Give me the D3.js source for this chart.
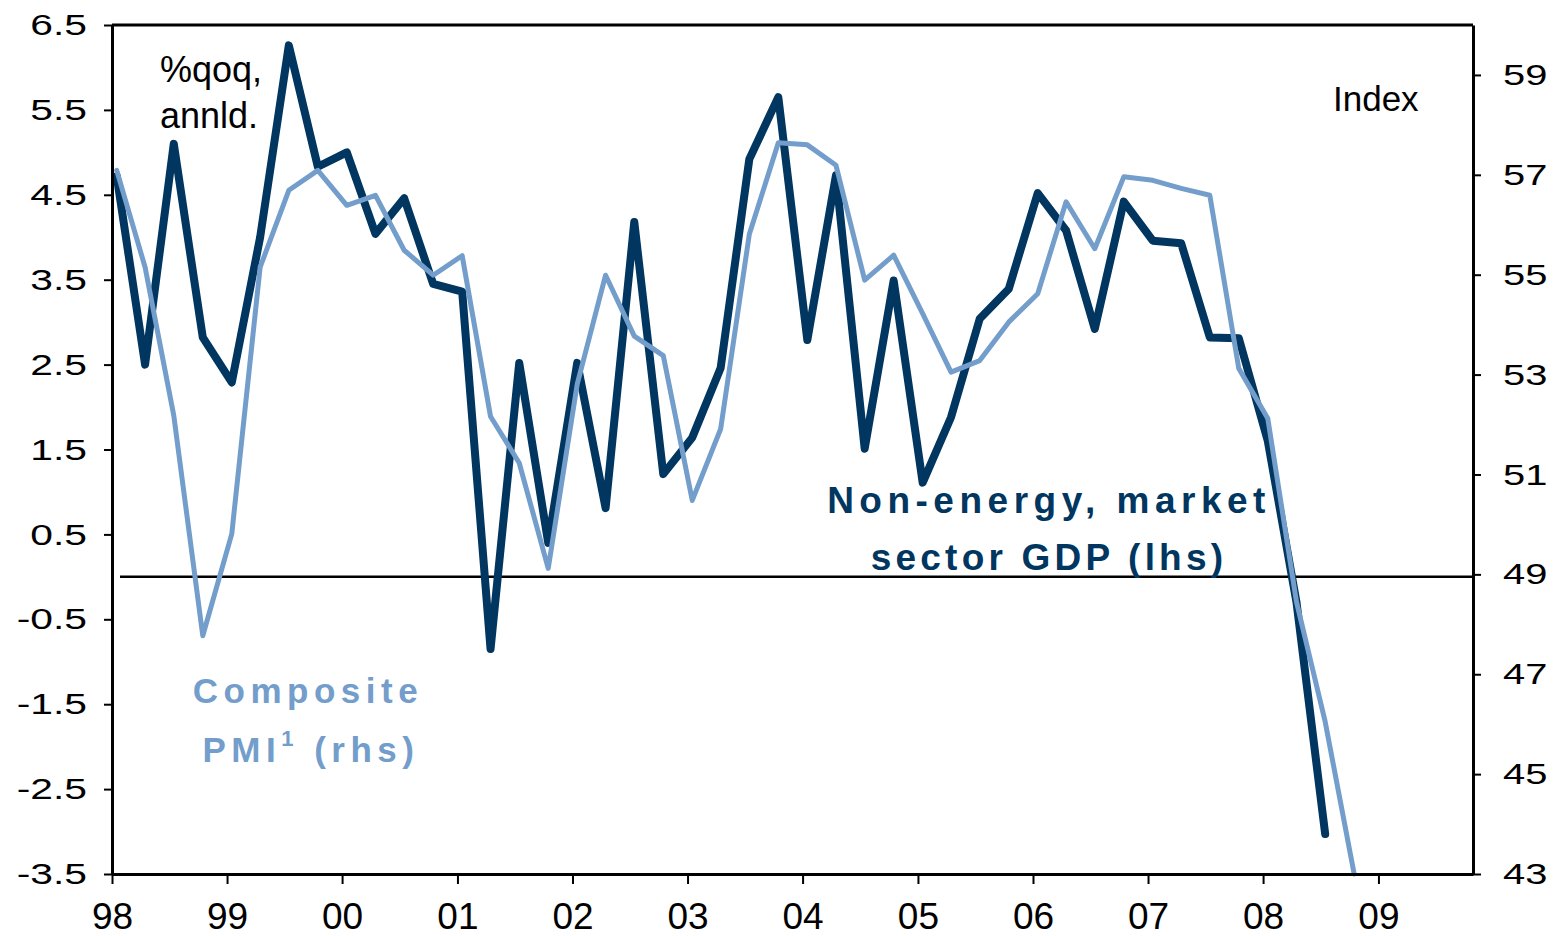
<!DOCTYPE html>
<html>
<head>
<meta charset="utf-8">
<script src="https://cdnjs.cloudflare.com/ajax/libs/d3/7.8.5/d3.min.js"></script>
<style>
  body { margin: 0; background: #fff; }
  svg text { font-family: "Liberation Sans", Arial, sans-serif; }
</style>
</head>
<body>
<div id="chart"></div>
<script>
// quarterly series, first point = 98Q1
var gdpValues = [4.72, 2.5, 5.1, 2.82, 2.29, 4.0, 6.26, 4.83, 5.0, 4.04, 4.46, 3.45,
                 3.36, -0.85, 2.52, 0.4, 2.52, 0.81, 4.18, 1.21, 1.64, 2.46, 4.92, 5.65,
                 2.79, 4.73, 1.51, 3.49, 1.11, 1.88, 3.04, 3.39, 4.52, 4.08, 2.92, 4.42,
                 3.96, 3.93, 2.82, 2.81, 1.6, -0.3, -3.03];
var pmiValues = [57.09, 55.15, 52.18, 47.77, 49.81, 55.15, 56.69, 57.09, 56.39, 56.59, 55.49, 54.99,
                 55.38, 52.16, 51.23, 49.12, 52.81, 54.99, 53.77, 53.38, 50.48, 51.91, 55.81, 57.64,
                 57.6, 57.19, 54.89, 55.39, 54.22, 53.05, 53.28, 54.05, 54.62, 56.46, 55.52, 56.96,
                 56.89, 56.73, 56.59, 53.12, 52.12, 48.45, 46.05, 43.0];
var yearLabels = ["98", "99", "00", "01", "02", "03", "04", "05", "06", "07", "08", "09"];
var leftTicks = [6.5, 5.5, 4.5, 3.5, 2.5, 1.5, 0.5, -0.5, -1.5, -2.5, -3.5];
var rightTicks = [59, 57, 55, 53, 51, 49, 47, 45, 43];

var darkBlue = "#00365f";
var lightBlue = "#739dca";

var margin = {top: 25, right: 83, bottom: 62, left: 112};
var width = 1556 - margin.left - margin.right;
var height = 936 - margin.top - margin.bottom;

// points sit a little into the first month of each quarter
function quarterDate(i) {
    return new Date(1998 + Math.floor(i / 4), (i % 4) * 3, 16);
}

var xScale = d3.scaleTime()
    .domain([new Date(1998, 0, 1), new Date(2009, 9, 28)])
    .range([0, width]);
var yLeft = d3.scaleLinear().domain([-3.5, 6.5]).range([height, 0]);
var yRight = d3.scaleLinear().domain([43, 60]).range([height, 0]);

var svg = d3.select("#chart").append("svg")
    .attr("width", 1556)
    .attr("height", 936)
  .append("g")
    .attr("transform", "translate(" + margin.left + "," + margin.top + ")");

// zero line
svg.append("line")
    .attr("x1", 8).attr("x2", width)
    .attr("y1", yLeft(0)).attr("y2", yLeft(0))
    .attr("stroke", "#000").attr("stroke-width", 2.5);

// series
var gdpLine = d3.line()
    .x(function(d, i) { return xScale(quarterDate(i)); })
    .y(function(d) { return yLeft(d); });
var pmiLine = d3.line()
    .x(function(d, i) { return xScale(quarterDate(i)); })
    .y(function(d) { return yRight(d); });

svg.append("path")
    .datum(gdpValues)
    .attr("d", gdpLine)
    .attr("fill", "none")
    .attr("stroke", darkBlue)
    .attr("stroke-width", 8)
    .attr("stroke-linejoin", "round")
    .attr("stroke-linecap", "round");

svg.append("path")
    .datum(pmiValues)
    .attr("d", pmiLine)
    .attr("fill", "none")
    .attr("stroke", lightBlue)
    .attr("stroke-width", 5)
    .attr("stroke-linejoin", "round")
    .attr("stroke-linecap", "round");

// frame top
svg.append("line")
    .attr("x1", 0).attr("x2", width)
    .attr("y1", 0).attr("y2", 0)
    .attr("stroke", "#000").attr("stroke-width", 3);

// axes
var xAxis = d3.axisBottom(xScale)
    .tickValues(yearLabels.map(function(d, i) { return new Date(1998 + i, 0, 1); }))
    .tickFormat(function(d, i) { return yearLabels[i]; })
    .tickSize(10).tickSizeOuter(0).tickPadding(19);
var leftAxis = d3.axisLeft(yLeft)
    .tickValues(leftTicks)
    .tickFormat(function(d) { return d.toFixed(1); })
    .tickSize(8).tickSizeOuter(0);
var rightAxis = d3.axisRight(yRight)
    .tickValues(rightTicks)
    .tickSize(8).tickSizeOuter(0);

var gx = svg.append("g").attr("class", "x axis")
    .attr("transform", "translate(0," + height + ")")
    .call(xAxis);
var gl = svg.append("g").attr("class", "y axis").call(leftAxis);
var gr = svg.append("g").attr("class", "y axis")
    .attr("transform", "translate(" + width + ",0)")
    .call(rightAxis);

[gx, gl, gr].forEach(function(g) {
    g.select(".domain").attr("stroke", "#000").attr("stroke-width", 3);
    g.selectAll(".tick line").attr("stroke", "#000").attr("stroke-width", 2);
    g.selectAll(".tick text").attr("fill", "#000");
});
gx.selectAll(".tick text").style("font-size", "37px");
// value labels are drawn wide in the original
gl.selectAll(".tick text").style("font-size", "30px")
    .attr("x", 0).attr("transform", "translate(-25,0) scale(1.36,1)");
gr.selectAll(".tick text").style("font-size", "30px")
    .attr("x", 0).attr("transform", "translate(30,0) scale(1.33,1)");

// annotations
var unitLeft = svg.append("text")
    .attr("x", 48).attr("y", 57)
    .style("font-size", "36px").attr("fill", "#000");
unitLeft.append("tspan").attr("x", 48).text("%qoq,");
unitLeft.append("tspan").attr("x", 48).attr("dy", 46).text("annld.");

svg.append("text")
    .attr("x", 1221).attr("y", 86)
    .style("font-size", "35px").attr("fill", "#000")
    .text("Index");

var gdpLabel = svg.append("text")
    .attr("text-anchor", "middle")
    .attr("y", 488)
    .style("font-size", "37px").style("font-weight", "bold")
    .attr("fill", darkBlue);
gdpLabel.append("tspan").attr("x", 937).style("letter-spacing", "5.5px").text("Non-energy, market");
gdpLabel.append("tspan").attr("x", 937).attr("dy", 57).style("letter-spacing", "4.2px").text("sector GDP (lhs)");

var pmiLabel = svg.append("text")
    .attr("text-anchor", "middle")
    .attr("y", 678)
    .style("font-size", "35px").style("font-weight", "bold")
    .style("letter-spacing", "5.5px")
    .attr("fill", lightBlue);
pmiLabel.append("tspan").attr("x", 196).text("Composite");
var pmiLine2 = pmiLabel.append("tspan").attr("x", 199).attr("dy", 59);
pmiLine2.append("tspan").text("PMI");
pmiLine2.append("tspan").attr("dy", -16).style("font-size", "22px").text("1");
pmiLine2.append("tspan").attr("dy", 16).text(" (rhs)");
</script>
</body>
</html>
